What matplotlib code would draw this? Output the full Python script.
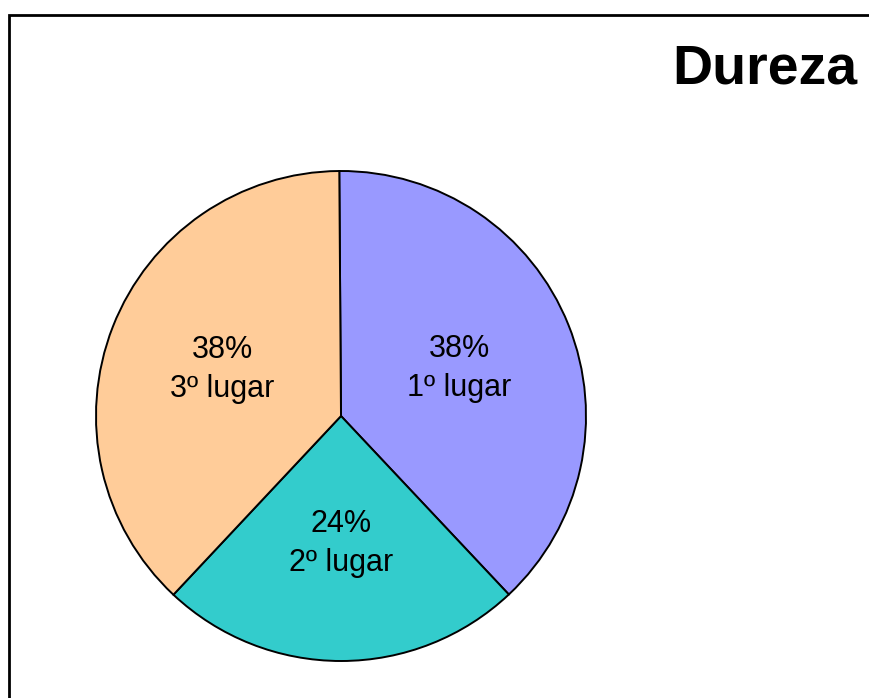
import matplotlib
matplotlib.use("Agg")
import matplotlib.pyplot as plt
from matplotlib.patches import Rectangle

plt.rcParams['font.family'] = ['Liberation Sans', 'DejaVu Sans']

title = "Dureza"
places = ["1º lugar", "2º lugar", "3º lugar"]
values = [38.1, 24.0, 37.9]
colors = ["#9999FF", "#33CCCC", "#FFCC99"]

W, H = 870, 698
fig = plt.figure(figsize=(W / 100, H / 100), dpi=100)

# frame
fig.patches.append(Rectangle((9.5 / W, -0.05), 1.2, (H - 14.5) / H + 0.05,
                             transform=fig.transFigure, fill=False,
                             edgecolor="black", linewidth=2.0, zorder=0))

cx, cy, r = 341, H - 416, 245
L = 1.25
ax = fig.add_axes([(cx - r * L) / W, (cy - r * L) / H, 2 * r * L / W, 2 * r * L / H])
total = sum(values)
labels = [f"{v / total * 100:.0f}%\n{p}" for v, p in zip(values, places)]
wedges, texts = ax.pie(values, colors=colors, startangle=90.4, counterclock=False,
                       labels=labels, labeldistance=0.52,
                       wedgeprops=dict(edgecolor="black", linewidth=1.4),
                       textprops=dict(fontsize=22, ha="center", va="center",
                                      linespacing=1.4))
ax.set_xlim(-L, L)
ax.set_ylim(-L, L)
ax.set_aspect("equal")
ax.axis("off")

fig.text(672 / W, 1 - 83 / H, title, fontsize=40, fontweight="bold",
         ha="left", va="baseline")

fig.savefig("out.png", dpi=100)
